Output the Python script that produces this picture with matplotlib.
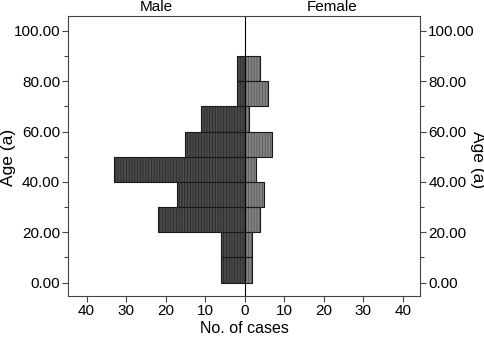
import matplotlib
matplotlib.use('Agg')
import matplotlib.pyplot as plt
from matplotlib.ticker import FuncFormatter, MultipleLocator
import numpy as np

plt.rcParams['font.family'] = ['Liberation Sans', 'DejaVu Sans']
plt.rcParams['hatch.linewidth'] = 0.6

# age bins (lower edge, years) and case counts
age_bins = [0, 10, 20, 30, 40, 50, 60, 70, 80]
male = [6, 6, 22, 17, 33, 15, 11, 2, 2]
female = [2, 2, 4, 5, 3, 7, 1, 6, 4]
bin_width = 10


def draw_side(ax, counts, sign, face, stripe):
    widths = sign * np.array(counts)
    # filled bars with vertical stripes
    ax.barh(age_bins, widths, height=bin_width, align='edge', color=face,
            edgecolor=stripe, linewidth=0, hatch='||||||')
    # black outline
    ax.barh(age_bins, widths, height=bin_width, align='edge', fill=False,
            edgecolor='#1a1a1a', linewidth=0.8)


def main():
    fig = plt.figure(figsize=(4.85, 3.41), dpi=100)
    ax = fig.add_axes([0.141, 0.132, 0.725, 0.822])

    draw_side(ax, male, -1, '#4a4a4a', '#2a2a2a')
    draw_side(ax, female, 1, '#828282', '#5a5a5a')
    ax.axvline(0, color='black', linewidth=0.8)

    ax.set_xlim(-44.6, 44.4)
    ax.set_ylim(-5.3, 106)
    ax.set_xticks(np.arange(-40, 41, 10))
    ax.xaxis.set_major_formatter(FuncFormatter(lambda v, p: f'{abs(v):.0f}'))
    ax.yaxis.set_major_locator(MultipleLocator(20))
    ax.yaxis.set_minor_locator(MultipleLocator(10))
    ax.yaxis.set_major_formatter(FuncFormatter(lambda v, p: f'{v:.2f}'))

    ax.tick_params(axis='both', which='both', direction='out', labelsize=11,
                   color='#444444', width=0.8)
    ax.tick_params(axis='both', which='major', length=4, pad=2)
    ax.tick_params(axis='y', which='minor', length=3)
    ax.tick_params(axis='y', which='both', left=True, right=True,
                   labelleft=True, labelright=True)
    for s in ax.spines.values():
        s.set_color('#444444')
        s.set_linewidth(0.8)

    ax.set_xlabel('No. of cases', fontsize=11.5, labelpad=2)
    fig.text(8.5 / 485, 1 - 157 / 341, 'Age (a)', fontsize=12.5,
             rotation=90, ha='center', va='center')
    fig.text(478 / 485, 1 - 160 / 341, 'Age (a)', fontsize=12.5,
             rotation=270, ha='center', va='center')

    ax.text(0.25, 1.005, 'Male', transform=ax.transAxes, ha='center',
            va='bottom', fontsize=11)
    ax.text(0.75, 1.005, 'Female', transform=ax.transAxes, ha='center',
            va='bottom', fontsize=11)

    fig.savefig('out.png', dpi=100)


if __name__ == '__main__':
    main()
